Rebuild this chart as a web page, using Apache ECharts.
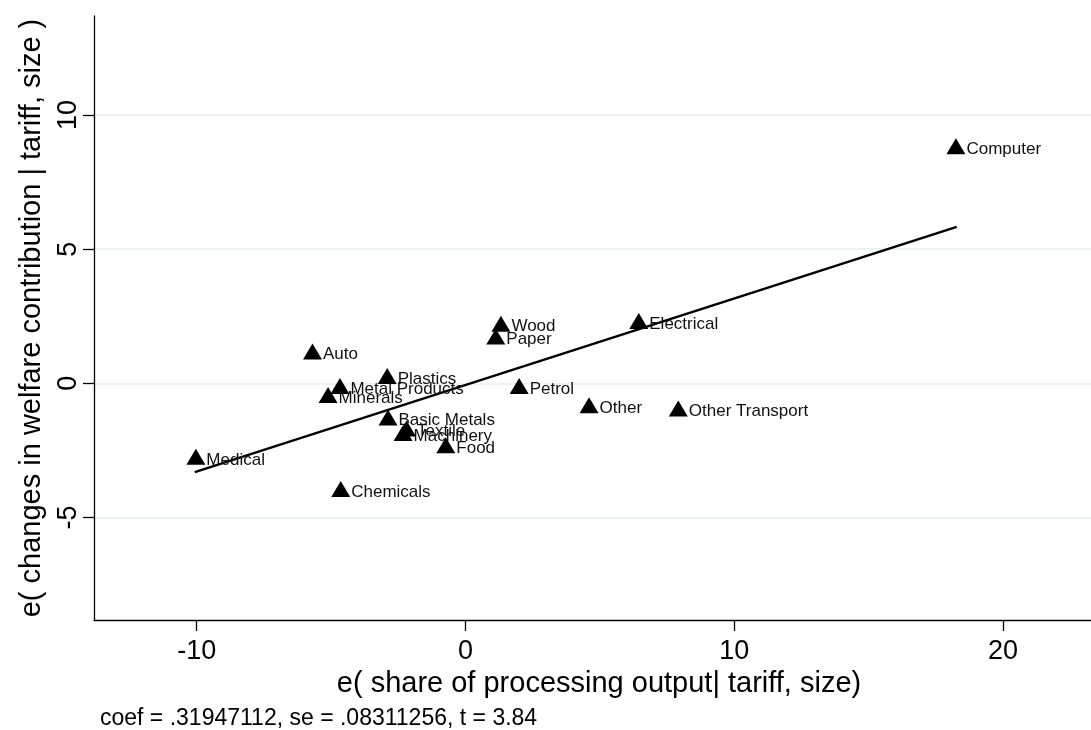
<!DOCTYPE html>
<html>
<head>
<meta charset="utf-8">
<script src="https://cdn.jsdelivr.net/npm/echarts@6/dist/echarts.min.js"></script>
<style>
html,body{margin:0;padding:0;background:#fff;}
#chart{width:1091px;height:730px;}
</style>
</head>
<body>
<div id="chart"></div>
<script>
const sectors = ["Computer","Medical","Auto","Metal Products","Minerals","Plastics","Basic Metals","Textile","Machinery","Food","Chemicals","Wood","Paper","Electrical","Petrol","Other","Other Transport"];
const xResid = [18.25,-10.03,-5.69,-4.67,-5.11,-2.91,-2.88,-2.19,-2.32,-0.73,-4.64,1.32,1.13,6.45,2.00,4.60,7.92];
const yResid = [8.84,-2.74,1.19,-0.10,-0.43,0.27,-1.27,-1.68,-1.85,-2.31,-3.94,2.22,1.75,2.32,-0.10,-0.82,-0.94];
const fitX = [-10.07, 18.28];
const fitY = [-3.31, 5.83];
const xTicks = [-10, 0, 10, 20];
const yTicks = [-5, 0, 5, 10];
const xTitle = "e( share of processing output| tariff, size)";
const yTitle = "e( changes in welfare contribution | tariff, size )";
const note = "coef = .31947112, se = .08311256, t = 3.84";

const FONT = "'Liberation Sans', Arial, sans-serif";
const chart = echarts.init(document.getElementById('chart'));
const option = {
  animation: false,
  backgroundColor: '#ffffff',
  grid: { left: 94, right: -13, top: 16, bottom: 110, outerBoundsMode: 'none', containLabel: false },
  xAxis: {
    type: 'value', min: -13.82, max: 23.76,
    name: xTitle, nameLocation: 'middle', nameGap: 41,
    nameTextStyle: { fontFamily: FONT, fontSize: 29, color: '#000' },
    axisLine: { show: true, onZero: false, lineStyle: { color: '#000', width: 1.3 } },
    axisTick: { show: true, length: 11, customValues: xTicks, lineStyle: { color: '#000', width: 1.3 } },
    axisLabel: { customValues: xTicks, margin: 18, fontFamily: FONT, fontSize: 27, color: '#000' },
    splitLine: { show: false }
  },
  yAxis: {
    type: 'value', min: -8.82, max: 13.69,
    name: yTitle, nameLocation: 'middle', nameGap: 48, nameRotate: 90,
    nameTextStyle: { fontFamily: FONT, fontSize: 29, color: '#000' },
    axisLine: { show: true, onZero: false, lineStyle: { color: '#000', width: 1.3 } },
    axisTick: { show: true, length: 11, customValues: yTicks, lineStyle: { color: '#000', width: 1.3 } },
    axisLabel: { customValues: yTicks, rotate: 90, margin: 12, fontFamily: FONT, fontSize: 27, color: '#000' },
    splitLine: { show: false }
  },
  graphic: [{
    type: 'text', left: 100, top: 707,
    style: { text: note, font: "23px 'Liberation Sans', Arial, sans-serif", fill: '#000' }
  }],
  series: [
    {
      type: 'line', data: [], z: 0, silent: true,
      markLine: {
        silent: true, symbol: ['none', 'none'], z: 0,
        label: { show: false },
        lineStyle: { color: '#e6eef0', width: 1.5, type: 'solid' },
        emphasis: { disabled: true },
        data: yTicks.map(v => ({ yAxis: v }))
      }
    },
    {
      type: 'line', z: 3, silent: true, symbol: 'none',
      lineStyle: { color: '#000', width: 2.5 },
      data: fitX.map((x, i) => [x, fitY[i]])
    },
    {
      type: 'scatter', z: 4, silent: true,
      symbol: 'triangle', symbolSize: [19, 16],
      itemStyle: { color: '#000', opacity: 1 },
      label: {
        show: true, position: 'right', distance: 1, offset: [0, 3],
        formatter: p => p.data[2],
        fontFamily: FONT, fontSize: 17, color: '#111', opacity: 1
      },
      data: sectors.map((s, i) => [xResid[i], yResid[i], s])
    }
  ]
};
chart.setOption(option);
</script>
</body>
</html>
